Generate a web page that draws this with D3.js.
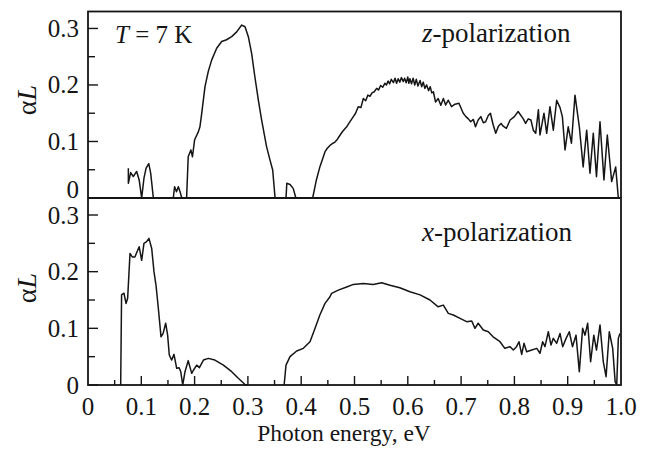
<!DOCTYPE html>
<html>
<head>
<meta charset="utf-8">
<script src="https://cdn.jsdelivr.net/npm/d3@7/dist/d3.min.js"></script>
<style>
  html, body { margin: 0; padding: 0; background: #fff; }
</style>
</head>
<body>
<svg id="chart" width="649" height="450"></svg>
<script>
// ---- Data ----
const xTickValues = [0, 0.1, 0.2, 0.3, 0.4, 0.5, 0.6, 0.7, 0.8, 0.9, 1.0];
const xTickLabels = ["0", "0.1", "0.2", "0.3", "0.4", "0.5", "0.6", "0.7", "0.8", "0.9", "1.0"];
const yTickValues = [0, 0.1, 0.2, 0.3];
const yTickLabels = ["0", "0.1", "0.2", "0.3"];

// z-polarization, segments separated by gaps (null)
const zEnergy = [
  0.0757, 0.0757, 0.080, 0.085, 0.0913, 0.096, 0.1007, 0.105, 0.109, 0.114, 0.1176, 0.1226, null,
  0.160, 0.1625, 0.166, 0.1695, 0.173, 0.176, null,
  0.181, 0.185, 0.188, 0.193, 0.196, 0.200, 0.207, 0.210, 0.213, 0.2195, 0.2257, 0.232, 0.2414,
  0.2508, 0.260, 0.2696, 0.279, 0.2884, 0.2946, 0.3008, 0.307, 0.313, 0.3196, 0.3258, 0.335,
  0.3415, 0.3465, 0.351, null,
  0.3715, 0.373, 0.379, 0.385, 0.390, null,
  0.4215, 0.428, 0.435, 0.4447, 0.449, 0.454, 0.458, 0.4634, 0.468, 0.473, 0.478, 0.4853, 0.490,
  0.4978, 0.502, 0.507, 0.512, 0.5166, 0.521, 0.525, 0.529, 0.533, 0.537, 0.5416, 0.545, 0.549,
  0.553, 0.557, 0.560, 0.563, 0.566, 0.569, 0.573, 0.576, 0.579, 0.582, 0.585, 0.588, 0.5916,
  0.594, 0.597, 0.600, 0.602, 0.604, 0.607, 0.610, 0.613, 0.616, 0.619, 0.623, 0.626, 0.629,
  0.632, 0.6354, 0.639, 0.642, 0.645, 0.648, 0.652, 0.657, 0.662, 0.6667, 0.671, 0.676, 0.682,
  0.6886, 0.696, 0.704, 0.709, 0.7136, 0.718, 0.723, 0.727, 0.732, 0.737, 0.7417, 0.746, 0.751,
  0.755, 0.760, 0.765, 0.770, 0.775, 0.779, 0.785, 0.792, 0.800, 0.807, 0.8167, 0.821, 0.826,
  0.831, 0.8355, 0.840, 0.845, 0.848, 0.8555, 0.8606, 0.8667, 0.873, 0.8793, 0.8856, 0.890,
  0.895, 0.901, 0.907, 0.9137, 0.9218, 0.929, 0.9356, 0.9418, 0.948, 0.954, 0.9606, 0.968,
  0.9743, 0.9825, 0.990, 0.995, 0.998
];
const zAbsorption = [
  0.0526, 0.026, 0.045, 0.038, 0.047, 0.032, 0.000, 0.035, 0.053, 0.061, 0.044, 0.000, null,
  0.000, 0.020, 0.011, 0.020, 0.010, 0.000, null,
  0.000, 0.000, 0.073, 0.085, 0.073, 0.103, 0.117, 0.126, 0.147, 0.197, 0.224, 0.244, 0.265,
  0.277, 0.280, 0.2855, 0.294, 0.306, 0.303, 0.2855, 0.256, 0.215, 0.173, 0.138, 0.091,
  0.067, 0.0496, 0.000, null,
  0.000, 0.026, 0.024, 0.017, 0.000, null,
  0.000, 0.030, 0.055, 0.082, 0.088, 0.093, 0.096, 0.099, 0.104, 0.1115, 0.118, 0.126, 0.133,
  0.144, 0.150, 0.1616, 0.160, 0.176, 0.172, 0.182, 0.180, 0.186, 0.188, 0.194, 0.191, 0.199,
  0.196, 0.203, 0.200, 0.207, 0.202, 0.210, 0.204, 0.212, 0.203, 0.211, 0.205, 0.213, 0.206,
  0.212, 0.204, 0.214, 0.203, 0.211, 0.202, 0.212, 0.200, 0.210, 0.198, 0.208, 0.197, 0.205,
  0.194, 0.200, 0.190, 0.197, 0.186, 0.188, 0.170, 0.176, 0.164, 0.176, 0.1646, 0.173,
  0.1616, 0.166, 0.1676, 0.150, 0.144, 0.140, 0.135, 0.139, 0.126, 0.138, 0.144, 0.133, 0.135,
  0.146, 0.150, 0.130, 0.1145, 0.127, 0.132, 0.127, 0.1234, 0.138, 0.144, 0.153, 0.140, 0.132,
  0.140, 0.138, 0.120, 0.1145, 0.156, 0.1115, 0.150, 0.1145, 0.1616, 0.120, 0.173, 0.160,
  0.144, 0.085, 0.126, 0.097, 0.182, 0.126, 0.055, 0.120, 0.0437, 0.1145, 0.0377, 0.135,
  0.032, 0.1115, 0.029, 0.055, 0.000
];

// x-polarization
const xEnergy = [
  0.0613, 0.063, 0.0675, 0.0713, 0.0744, 0.0788, 0.083, 0.088, 0.096, 0.1007, 0.105, 0.110,
  0.1144, 0.1195, 0.1238, 0.1276, 0.132, 0.137, 0.141, 0.1457, 0.1494, 0.1525, 0.157, 0.1613,
  0.1664, 0.171, 0.174, 0.1777, 0.182, 0.188, 0.1946, 0.1977, 0.204, 0.209, 0.2166, 0.2257,
  0.238, 0.254, 0.2696, 0.282, 0.2946, 0.299, null,
  0.368, 0.3715, 0.379, 0.3915, 0.404, 0.4165, 0.426, 0.435, 0.4447, 0.454, 0.457, 0.4696,
  0.4853, 0.4978, 0.5166, 0.535, 0.551, 0.5666, 0.585, 0.604, 0.623, 0.6416, 0.657, 0.6667,
  0.676, 0.6854, 0.698, 0.7104, 0.720, 0.726, 0.732, 0.7417, 0.751, 0.760, 0.773, 0.782, 0.792,
  0.798, 0.804, 0.8086, 0.8137, 0.818, 0.823, 0.8325, 0.842, 0.848, 0.853, 0.8574, 0.8636,
  0.8687, 0.873, 0.8793, 0.8856, 0.8906, 0.897, 0.903, 0.909, 0.9156, 0.9218, 0.928, 0.9325,
  0.9375, 0.943, 0.949, 0.954, 0.9606, 0.9668, 0.972, 0.978, 0.9844, 0.989, 0.992, 0.995, 0.998
];
const xAbsorption = [
  0.000, 0.159, 0.162, 0.144, 0.153, 0.232, 0.226, 0.226, 0.244, 0.220, 0.250, 0.253,
  0.2587, 0.241, 0.200, 0.176, 0.135, 0.085, 0.091, 0.109, 0.088, 0.053, 0.044, 0.054,
  0.0294, 0.0306, 0.0235, 0.000, 0.0235, 0.043, 0.0206, 0.026, 0.035, 0.0306, 0.044, 0.047,
  0.044, 0.035, 0.0235, 0.0118, 0.001, 0.000, null,
  0.000, 0.035, 0.050, 0.060, 0.0647, 0.0764, 0.100, 0.1235, 0.144, 0.1557, 0.1617, 0.1675,
  0.173, 0.1775, 0.179, 0.1775, 0.1805, 0.176, 0.1716, 0.1646, 0.159, 0.150, 0.138, 0.141,
  0.1264, 0.1235, 0.1176, 0.1117, 0.1129, 0.100, 0.109, 0.097, 0.094, 0.085, 0.0764, 0.0647, 0.0676,
  0.0617, 0.0676, 0.0764, 0.054, 0.0735, 0.0588, 0.0617, 0.0647, 0.056, 0.0764, 0.0676, 0.094,
  0.0705, 0.0823, 0.0735, 0.091, 0.0676, 0.0823, 0.094, 0.0676, 0.088, 0.0235, 0.100, 0.088,
  0.109, 0.041, 0.088, 0.0617, 0.106, 0.041, 0.0147, 0.094, 0.0647, 0.006, 0.000, 0.0823, 0.091
];

// ---- Layout ----
const svg = d3.select("#chart");
const FONT = '"Liberation Serif", "Times New Roman"';
const left = 88, right = 621;
const top1 = 11.5, mid = 198, bottom2 = 385;

const x = d3.scaleLinear().domain([0, 1]).range([left, right]);
const yTop = d3.scaleLinear().domain([0, 0.33]).range([mid, top1]);
const yBot = d3.scaleLinear().domain([0, 0.33]).range([bottom2, mid]);

const ink = "#151515";

function txt(sel) {
  return sel.style("font-family", FONT).attr("fill", ink);
}

function panel(y, energies, values, isTop) {
  const g = svg.append("g");
  const minor = [0.05, 0.15, 0.25];
  g.selectAll(".ymaj").data(yTickValues).enter().append("line")
    .attr("x1", left).attr("x2", left + 10)
    .attr("y1", d => y(d)).attr("y2", d => y(d))
    .attr("stroke", ink).attr("stroke-width", 1.4);
  g.selectAll(".ymin").data(minor).enter().append("line")
    .attr("x1", left).attr("x2", left + 7)
    .attr("y1", d => y(d)).attr("y2", d => y(d))
    .attr("stroke", ink).attr("stroke-width", 1.4);
  txt(g.selectAll(".ylab").data(yTickValues).enter().append("text"))
    .attr("x", 79)
    .attr("y", d => (isTop && d === 0) ? y(d) : y(d) + 8.5)
    .attr("text-anchor", "end")
    .style("font-size", "25px")
    .text((d, i) => yTickLabels[i]);

  const pts = energies.map((e, i) => (e === null ? null : [e, values[i]]));
  const line = d3.line()
    .defined(d => d !== null)
    .x(d => x(d[0]))
    .y(d => y(d[1]));
  g.append("path")
    .datum(pts)
    .attr("d", line)
    .attr("fill", "none")
    .attr("stroke", ink)
    .attr("stroke-width", 1.5)
    .attr("stroke-linejoin", "round");
}

panel(yTop, zEnergy, zAbsorption, true);
panel(yBot, xEnergy, xAbsorption, false);

const xMinor = d3.range(0.05, 1.0, 0.1);
svg.append("g").selectAll("line").data(xTickValues.slice(1, -1)).enter().append("line")
  .attr("x1", d => x(d)).attr("x2", d => x(d))
  .attr("y1", bottom2).attr("y2", bottom2 - 9)
  .attr("stroke", ink).attr("stroke-width", 1.4);
svg.append("g").selectAll("line").data(xMinor).enter().append("line")
  .attr("x1", d => x(d)).attr("x2", d => x(d))
  .attr("y1", bottom2).attr("y2", bottom2 - 5)
  .attr("stroke", ink).attr("stroke-width", 1.4);
txt(svg.append("g").selectAll("text").data(xTickValues).enter().append("text"))
  .attr("x", d => x(d))
  .attr("y", 415)
  .attr("text-anchor", "middle")
  .style("font-size", "25px")
  .text((d, i) => xTickLabels[i]);

svg.append("rect").attr("x", left).attr("y", top1).attr("width", right - left).attr("height", bottom2 - top1)
  .attr("fill", "none").attr("stroke", ink).attr("stroke-width", 1.8);
svg.append("line").attr("x1", left).attr("x2", right).attr("y1", mid).attr("y2", mid)
  .attr("stroke", ink).attr("stroke-width", 2.2);

function alphaL(cx, cy) {
  const t = txt(svg.append("text"))
    .attr("transform", `translate(${cx},${cy}) rotate(-90)`)
    .attr("text-anchor", "middle")
    .style("font-size", "28px");
  t.append("tspan").text("α");
  t.append("tspan").style("font-style", "italic").text("L");
}
alphaL(36, 100);
alphaL(36, 288);

txt(svg.append("text"))
  .attr("x", 344).attr("y", 441)
  .attr("text-anchor", "middle")
  .style("font-size", "23.5px")
  .text("Photon energy, eV");

const tLab = txt(svg.append("text")).attr("x", 115).attr("y", 43).style("font-size", "25px");
tLab.append("tspan").style("font-style", "italic").text("T");
tLab.append("tspan").text(" = 7 K");

const zLab = txt(svg.append("text")).attr("x", 422).attr("y", 42).style("font-size", "27px");
zLab.append("tspan").style("font-style", "italic").text("z");
zLab.append("tspan").text("-polarization");

const xLab = txt(svg.append("text")).attr("x", 422).attr("y", 241).style("font-size", "27px");
xLab.append("tspan").style("font-style", "italic").text("x");
xLab.append("tspan").text("-polarization");
</script>
</body>
</html>
